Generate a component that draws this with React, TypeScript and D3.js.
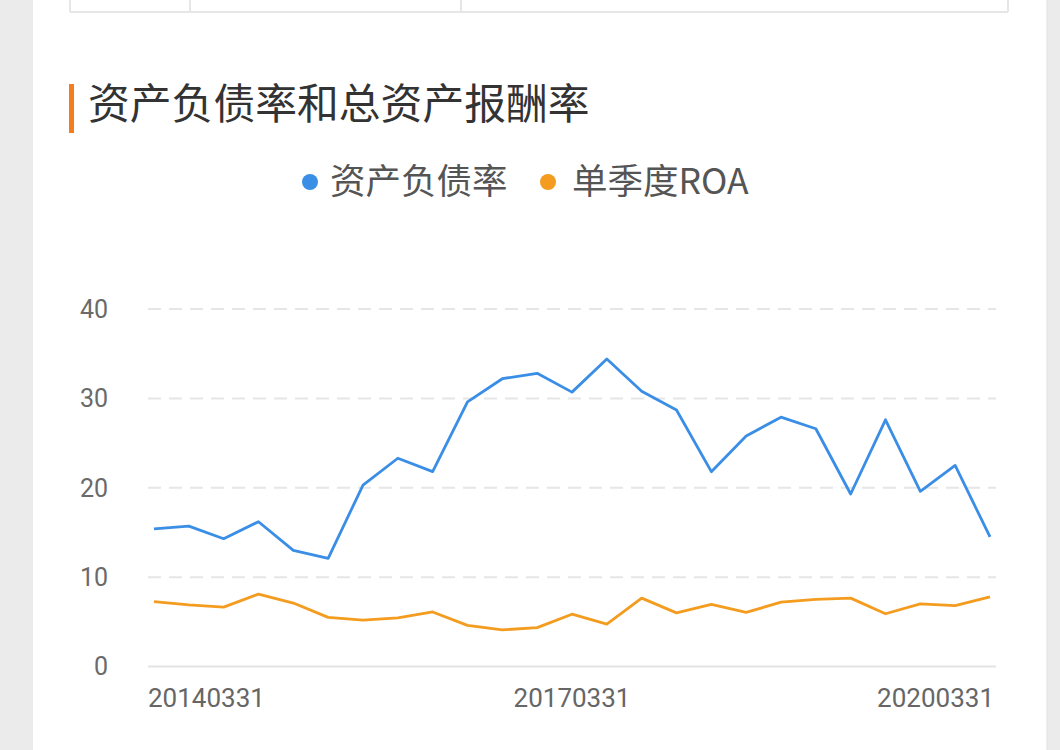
import React from "react";
import * as d3 from "d3";

const dates = [
  "20140331","20140630","20140930","20141231",
  "20150331","20150630","20150930","20151231",
  "20160331","20160630","20160930","20161231",
  "20170331","20170630","20170930","20171231",
  "20180331","20180630","20180930","20181231",
  "20190331","20190630","20190930","20191231",
  "20200331",
];
const debtRatio = [15.4,15.7,14.3,16.2,13.0,12.1,20.3,23.3,21.8,29.6,32.2,32.8,30.7,34.4,30.8,28.7,21.8,25.8,27.9,26.6,19.3,27.6,19.6,22.5,14.5];
const roa = [7.25,6.9,6.65,8.1,7.1,5.5,5.2,5.45,6.1,4.6,4.1,4.35,5.85,4.75,7.65,6.0,6.95,6.05,7.2,7.5,7.65,5.9,7.0,6.8,7.8];
const yTicks = [0, 10, 20, 30, 40];
const xLabelIdx = [0, 12, 24];
const seriesNames = ["资产负债率", "单季度ROA"];
const title = "资产负债率和总资产报酬率";

const W = 1060, H = 750;
const BLUE = "#3a8ee6";
const ORANGE = "#f39c1f";

export default function App() {
  const x = d3.scalePoint<string>().domain(dates).range([154, 990]);
  const y = d3.scaleLinear().domain([0, 40]).range([666.5, 309]);
  const line = d3.line<number>().x((_, i) => x(dates[i]) as number).y((d) => y(d));
  const font = "Roboto, 'Noto Sans', sans-serif";
  const cjk = "'Noto Sans CJK SC', 'Noto Sans', sans-serif";
  return (
    <div style={{ position: "fixed", left: 0, top: 0, width: W, height: H, background: "#ebebeb" }}>
      <svg width={W} height={H} style={{ display: "block" }}>
        <rect x={0} y={0} width={W} height={H} fill="#ebebeb" />
        <rect x={33} y={0} width={1014} height={H} fill="#ffffff" />
        <line x1={1047} x2={1047} y1={0} y2={H} stroke="#e2e2e2" strokeWidth={1} />
        {/* table remnant */}
        <g stroke="#e6e6e6" strokeWidth={2} fill="none">
          <line x1={70} x2={70} y1={0} y2={12} />
          <line x1={190} x2={190} y1={0} y2={12} />
          <line x1={461} x2={461} y1={0} y2={12} />
          <line x1={1008} x2={1008} y1={0} y2={12} />
          <line x1={70} x2={1008} y1={12} y2={12} />
        </g>
        {/* title */}
        <rect x={69} y={84} width={5} height={49} fill="#f57c1f" />
        <text x={88} y={119} fontFamily={cjk} fontSize={41.8} fill="#333333">{title}</text>
        {/* legend */}
        <circle cx={310} cy={182} r={8} fill={BLUE} />
        <text x={330} y={194} fontFamily={cjk} fontSize={35.5} fill="#555555">{seriesNames[0]}</text>
        <circle cx={548} cy={182} r={8} fill={ORANGE} />
        <text x={572} y={194} fontFamily={cjk} fontSize={35.5} fill="#555555">{seriesNames[1]}</text>
        {/* grid */}
        {yTicks.map((t) => (
          <g key={t}>
            <line
              x1={148}
              x2={996}
              y1={y(t)}
              y2={y(t)}
              stroke={t === 0 ? "#e3e3e3" : "#e6e6e6"}
              strokeWidth={2}
              strokeDasharray={t === 0 ? undefined : "13 8"}
            />
            <text x={108} y={y(t)} dy="0.35em" textAnchor="end" fontFamily={font} fontSize={25} fill="#6a6a6a">
              {t}
            </text>
          </g>
        ))}
        {xLabelIdx.map((i, k) => (
          <text
            key={i}
            x={x(dates[i]) as number + (k === 0 ? -6 : k === xLabelIdx.length - 1 ? 4 : 0)}
            y={707}
            textAnchor={k === 0 ? "start" : k === xLabelIdx.length - 1 ? "end" : "middle"}
            fontFamily={font}
            fontSize={26}
            fill="#666666"
          >
            {dates[i]}
          </text>
        ))}
        <path d={line(roa) as string} fill="none" stroke={ORANGE} strokeWidth={2.8} strokeLinejoin="round" />
        <path d={line(debtRatio) as string} fill="none" stroke={BLUE} strokeWidth={2.8} strokeLinejoin="round" />
      </svg>
    </div>
  );
}
